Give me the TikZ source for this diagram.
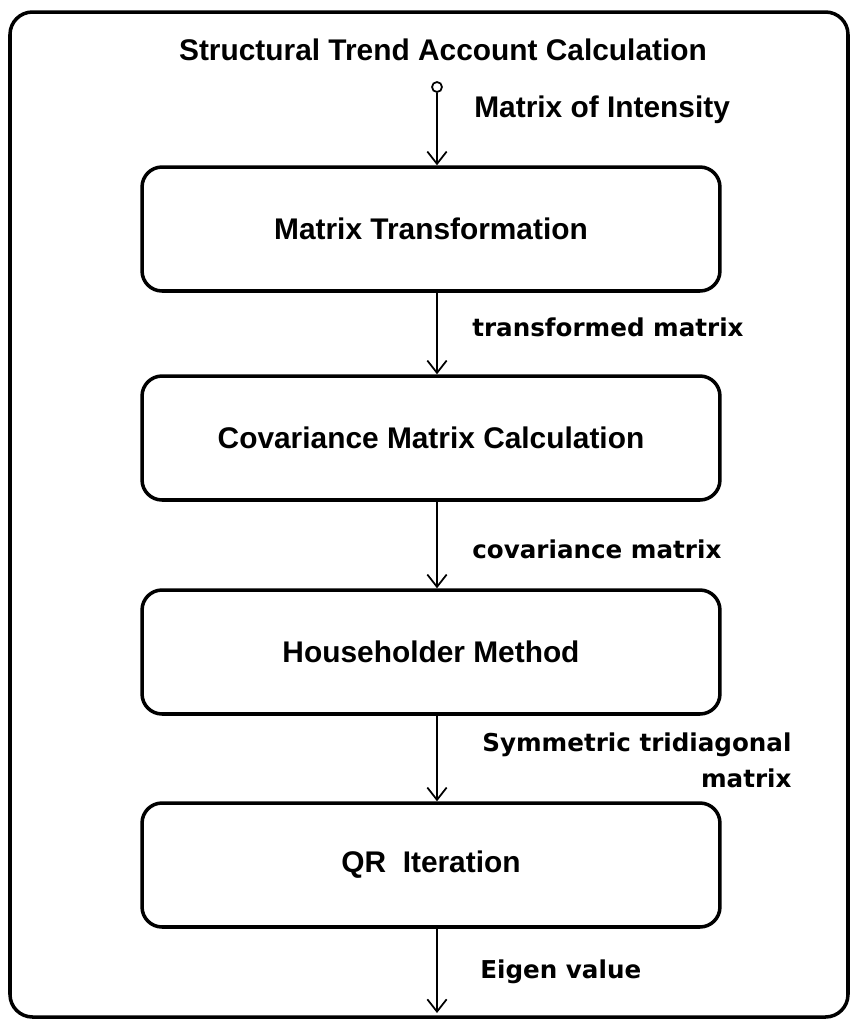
\documentclass[tikz,border=0pt]{standalone}
\usepackage{fontspec}
\setmainfont{Liberation Sans}
\newfontfamily\msfont{DejaVu Sans}
\usepackage{tikz}
\usetikzlibrary{shapes,arrows,arrows.meta,positioning}

\begin{document}
\begin{tikzpicture}[x=0.02cm,y=-0.02cm]
	\tikzstyle{Process}	= [draw, line width=2pt, rounded corners=0.4cm, minimum width=11.56cm, minimum height=2.48cm, inner sep=0pt, font=\fontsize{17}{20}\selectfont\bfseries]
	\tikzstyle{Title}	= [inner sep=0pt, font=\fontsize{17}{20}\selectfont\bfseries]
	\tikzstyle{Note}	= [anchor=west, inner sep=0pt, font=\msfont\fontsize{14}{20.5}\selectfont\bfseries]
	\tikzstyle{Source}	= [circle, draw, line width=1pt, fill=white, minimum size=0.2cm, inner sep=0pt]
	\tikzstyle{Flow}	= [line width=1pt, -{Straight Barb[length=7pt,width=11pt,line width=1pt]}]

	\useasboundingbox (0,0) rectangle (851,1019);
	\draw [line width=2pt, rounded corners=0.45cm] (10,12) rectangle (848,1017);

	\node (title) at (443,50) [Title] {Structural Trend Account Calculation};
	\node (src) at (437,87) [Source] {};

	\node (mt) at (431,229) [Process] {Matrix Transformation};
	\node (cv) at (431,438) [Process] {Covariance Matrix Calculation};
	\node (hh) at (431,652) [Process] {Householder Method};
	\node (qr) at (431,865) [Process] {QR\ \ Iteration};
	\coordinate (out) at (437,1013);

	% data passed between the steps
	\node (lmi) at (474,110) [Title, anchor=west] {Matrix of Intensity};
	\node (ltm) at (472,327) [Note] {transformed matrix};
	\node (lcm) at (472,549) [Note] {covariance matrix};
	\node (lst) at (482,760) [Note, align=right] {Symmetric tridiagonal\\matrix};
	\node (lev) at (480,972) [Note] {Eigen value};

	\draw [Flow] (src) -- (src |- mt.north);
	\draw [Flow] (mt.south -| src) -- (cv.north -| src);
	\draw [Flow] (cv.south -| src) -- (hh.north -| src);
	\draw [Flow] (hh.south -| src) -- (qr.north -| src);
	\draw [Flow] (qr.south -| src) -- (out);
\end{tikzpicture}
\end{document}
